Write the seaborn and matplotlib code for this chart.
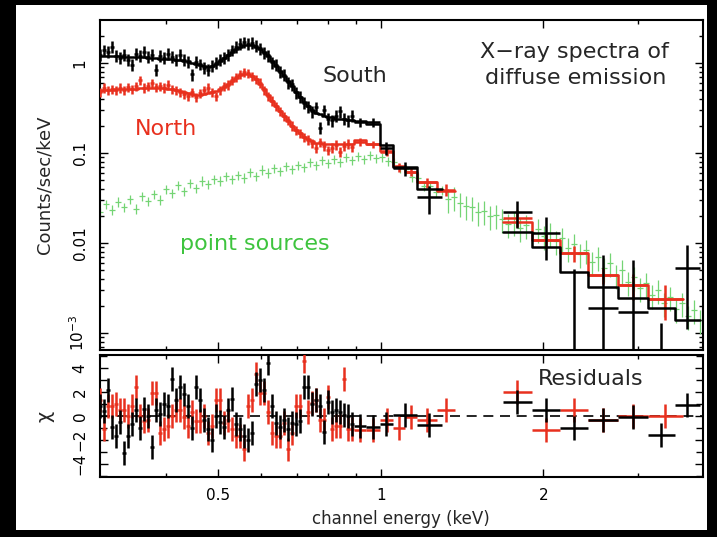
import numpy as np
import matplotlib
matplotlib.use("Agg")
import matplotlib.pyplot as plt
import seaborn as sns
from matplotlib.patches import Rectangle

# ---------------- data ----------------
energy_dense = [0.3020, 0.3072, 0.3125, 0.3178, 0.3233, 0.3289, 0.3345, 0.3403, 0.3461, 0.3521,
                0.3581, 0.3643, 0.3706, 0.3769, 0.3834, 0.3900, 0.3967, 0.4035, 0.4105, 0.4175,
                0.4247, 0.4320, 0.4395, 0.4470, 0.4547, 0.4625, 0.4705, 0.4786, 0.4868, 0.4952,
                0.5037, 0.5124, 0.5212, 0.5302, 0.5393, 0.5486, 0.5580, 0.5676, 0.5774, 0.5873,
                0.5974, 0.6077, 0.6181, 0.6288, 0.6396, 0.6506, 0.6618, 0.6732, 0.6848, 0.6965,
                0.7085, 0.7207, 0.7331, 0.7457, 0.7585, 0.7716, 0.7848, 0.7983, 0.8121, 0.8260,
                0.8402, 0.8547, 0.8694, 0.8843]

south_flux = [1.23, 1.39, 1.33, 1.51, 1.20, 1.14, 1.23, 1.08, 0.95, 1.26,
              1.20, 1.33, 1.17, 1.23, 0.84, 1.20, 1.14, 1.26, 1.17, 1.08,
              1.23, 1.08, 1.03, 0.75, 1.03, 0.97, 0.88, 0.84, 0.93, 1.00,
              1.08, 1.14, 1.23, 1.39, 1.51, 1.63, 1.71, 1.63, 1.67, 1.55,
              1.45, 1.30, 1.22, 1.02, 0.95, 0.80, 0.74, 0.61, 0.58, 0.47,
              0.42, 0.36, 0.33, 0.29, 0.32, 0.19, 0.30, 0.24, 0.23, 0.26,
              0.29, 0.24, 0.23, 0.26]
south_model = [1.20, 1.20, 1.19, 1.19, 1.18, 1.18, 1.17, 1.17, 1.16, 1.16,
               1.15, 1.15, 1.14, 1.14, 1.13, 1.12, 1.12, 1.11, 1.10, 1.09,
               1.08, 1.06, 1.04, 1.01, 0.98, 0.95, 0.92, 0.91, 0.93, 0.98,
               1.05, 1.13, 1.22, 1.32, 1.42, 1.52, 1.58, 1.60, 1.58, 1.52,
               1.44, 1.33, 1.20, 1.06, 0.93, 0.82, 0.72, 0.63, 0.55, 0.48,
               0.42, 0.37, 0.33, 0.30, 0.28, 0.27, 0.26, 0.25, 0.25, 0.24,
               0.24, 0.24, 0.23, 0.23]
south_chi = [0.8, 0.4, 2.2, -0.9, -1.7, -0.5, -3.1, -1.7, -0.7, 0.5,
             -1.0, 0.6, 0.0, -2.6, 0.5, 0.2, 1.0, 0.8, 3.1, 1.3,
             2.4, 1.8, 0.8, -1.0, 2.4, 1.3, -0.3, -1.1, -2.0, 0.0,
             -0.5, -0.9, 0.5, 1.4, -0.7, -1.1, -1.7, -2.0, -1.4, 2.7,
             3.0, 2.2, 4.4, 0.8, -0.6, -0.9, -0.3, -1.1, -0.6, -0.7,
             -0.4, 2.4, 2.4, 1.0, 1.3, 0.8, -1.3, 1.2, 0.3, 0.5,
             0.3, 0.1, 0.0, -0.7]

north_flux = [0.476, 0.528, 0.501, 0.514, 0.501, 0.528, 0.501, 0.541, 0.514, 0.555,
              0.647, 0.528, 0.555, 0.599, 0.541, 0.555, 0.528, 0.570, 0.514, 0.501,
              0.476, 0.452, 0.430, 0.476, 0.419, 0.464, 0.501, 0.528, 0.476, 0.430,
              0.501, 0.555, 0.570, 0.647, 0.699, 0.755, 0.794, 0.774, 0.717, 0.660,
              0.600, 0.500, 0.430, 0.380, 0.330, 0.290, 0.255, 0.230, 0.200, 0.180,
              0.165, 0.150, 0.140, 0.128, 0.114, 0.132, 0.120, 0.108, 0.114, 0.123,
              0.103, 0.120, 0.126, 0.116]
north_model = [0.49, 0.50, 0.50, 0.50, 0.51, 0.51, 0.51, 0.52, 0.52, 0.52,
               0.53, 0.53, 0.53, 0.53, 0.53, 0.53, 0.53, 0.52, 0.51, 0.50,
               0.49, 0.47, 0.46, 0.45, 0.44, 0.44, 0.45, 0.46, 0.47, 0.49,
               0.51, 0.54, 0.58, 0.63, 0.68, 0.73, 0.76, 0.76, 0.72, 0.66,
               0.59, 0.51, 0.44, 0.38, 0.33, 0.29, 0.255, 0.225, 0.20, 0.18,
               0.165, 0.152, 0.142, 0.135, 0.13, 0.128, 0.126, 0.125, 0.125, 0.125,
               0.125, 0.125, 0.125, 0.125]
north_chi = [1.3, -1.1, 0.8, 0.8, 1.0, 0.5, 0.5, 0.0, 0.8, 2.4,
             0.0, -0.4, -0.3, 1.9, 1.9, -1.4, -1.1, -0.8, 0.0, 0.5,
             0.5, -0.1, -0.8, 0.3, -0.4, -0.4, 0.0, -1.4, -0.8, 1.3,
             1.3, -0.6, -0.3, -1.1, -1.7, -1.7, -2.8, 0.8, 1.3, 3.5,
             1.9, 1.9, 0.3, -1.4, -1.7, -1.7, -0.6, -2.8, -1.4, 0.8,
             0.8, 4.6, 0.3, 1.1, 1.3, -0.3, -0.3, 1.6, -1.1, -0.8,
             -0.8, 3.1, -1.1, -1.1]
south_rel_err = 0.15
north_rel_err = 0.12

south_mid_edges = [0.892, 0.939, 0.997, 1.052, 1.165, 1.300]
south_mid_flux = [0.22, 0.22, 0.114, 0.068, 0.032]
south_mid_err = [0.025, 0.025, 0.020, 0.012, 0.011]
south_mid_model = [0.225, 0.21, 0.123, 0.070, 0.040]
south_mid_chi = [-0.8, -0.9, -0.7, 0.1, -0.75]

north_mid_edges = [0.892, 0.939, 0.997, 1.053, 1.109, 1.167, 1.271, 1.372]
north_mid_flux = [0.133, 0.125, 0.103, 0.070, 0.062, 0.047, 0.039]
north_mid_err = [0.012, 0.012, 0.010, 0.008, 0.007, 0.006, 0.006]
north_mid_model = [0.140, 0.127, 0.104, 0.072, 0.062, 0.048, 0.038]
north_mid_chi = [-1.2, -1.2, -0.3, -1.0, -0.1, -0.3, 0.5]

south_hi_edges = [1.683, 1.905, 2.147, 2.42, 2.75, 3.12, 3.50, 3.90]
south_hi_flux = [0.022, 0.0129, 0.0004, 0.0019, 0.0017, 0.0003, 0.0053]
south_hi_err = [0.0075, 0.0065, 0.0048, 0.0055, 0.0048, 0.0010, 0.0042]
south_hi_model = [0.01325, 0.0090, 0.00476, 0.00325, 0.00245, 0.0019, 0.0014]
south_hi_chi = [1.2, 0.5, -1.0, -0.3, -0.05, -1.6, 0.9]

north_hi_edges = [1.683, 1.905, 2.147, 2.42, 2.75, 3.12, 3.63]
north_hi_flux = [0.019, 0.0108, 0.0077, 0.0044, 0.0034, 0.0024]
north_hi_err = [0.004, 0.002, 0.0015, 0.0009, 0.0011, 0.0010]
north_hi_model = [0.0172, 0.0108, 0.0077, 0.0044, 0.0034, 0.0024]
north_hi_chi = [2.0, -1.2, 0.5, -0.3, 0.0, 0.0]

green_energy = [0.3020, 0.3098, 0.3178, 0.3261, 0.3345, 0.3432, 0.3521, 0.3612, 0.3706, 0.3802,
                0.3900, 0.4001, 0.4105, 0.4211, 0.4320, 0.4432, 0.4547, 0.4665, 0.4786, 0.4910,
                0.5037, 0.5168, 0.5302, 0.5439, 0.5580, 0.5725, 0.5873, 0.6025, 0.6181, 0.6342,
                0.6506, 0.6675, 0.6848, 0.7025, 0.7207, 0.7394, 0.7585, 0.7782, 0.7983, 0.8190,
                0.8402, 0.8620, 0.8843, 0.9072, 0.9307, 0.9549, 0.9796, 1.0050, 1.0311, 1.0578,
                1.0852, 1.1133, 1.1422, 1.1718, 1.2021, 1.2333, 1.2652, 1.2980, 1.3317, 1.3662,
                1.4016, 1.4379, 1.4752, 1.5134, 1.5526, 1.5929, 1.6341, 1.6765, 1.7199, 1.7645,
                1.8102, 1.8571, 1.9053, 1.9546, 2.0053, 2.0572, 2.1106, 2.1653, 2.2214, 2.2789,
                2.3380, 2.3986, 2.4608, 2.5245, 2.5900, 2.6571, 2.7259, 2.7966, 2.8690, 2.9434,
                3.0197, 3.0979, 3.1782, 3.2606, 3.3451, 3.4318, 3.5207, 3.6119, 3.7055, 3.8016,
                3.9001]
green_flux = [0.0221, 0.0271, 0.0233, 0.0286, 0.0251, 0.0308, 0.0239, 0.0333, 0.0293, 0.0350,
              0.0301, 0.0398, 0.0359, 0.0441, 0.0378, 0.0464, 0.0408, 0.0489, 0.0452, 0.0514,
              0.0489, 0.0555, 0.0514, 0.0570, 0.0528, 0.0615, 0.0555, 0.0648, 0.0600, 0.0681,
              0.0631, 0.0717, 0.0664, 0.0736, 0.0699, 0.0794, 0.0736, 0.0836, 0.0774, 0.0858,
              0.0794, 0.0903, 0.0836, 0.0926, 0.0858, 0.0950, 0.0880, 0.0903, 0.0815, 0.0794,
              0.0681, 0.0664, 0.0541, 0.0528, 0.0430, 0.0430, 0.0369, 0.0388, 0.0308, 0.0325,
              0.0278, 0.0258, 0.0251, 0.0221, 0.0227, 0.0200, 0.0205, 0.0185, 0.0163, 0.0171,
              0.0147, 0.0159, 0.0133, 0.0143, 0.0120, 0.0129, 0.0105, 0.0114, 0.0088, 0.00975,
              0.00755, 0.00836, 0.00615, 0.00699, 0.00528, 0.00599, 0.00441, 0.00501, 0.00369, 0.00419,
              0.00316, 0.00359, 0.00264, 0.00300, 0.00215, 0.00251, 0.00185, 0.00215, 0.00154, 0.00180,
              0.00140]
green_rel_err_soft = 0.12
green_rel_err_hard = 0.30
green_err_break_keV = 1.3

# ---------------- style ----------------
sns.set_style("ticks")
plt.rcParams['font.family'] = ['DejaVu Sans']
plt.rcParams['mathtext.fontset'] = 'dejavusans'

BLACK = '#000000'
RED = '#e8301e'
GREEN_PT = '#74d474'
GREEN_TXT = '#3ec43e'
LW = 1.8

W, H = 717, 537
fig = plt.figure(figsize=(W / 100, H / 100), dpi=100, facecolor='black')


def fx(px):
    return px / W


def fy(py):
    return 1 - py / H


fig.patches.append(Rectangle((fx(16), fy(530)), (707 - 16) / W, (530 - 5) / H,
                             transform=fig.transFigure, facecolor='white',
                             edgecolor='none', zorder=-10))

ax1 = fig.add_axes([fx(100), fy(350), (703 - 100) / W, (350 - 20) / H])
ax2 = fig.add_axes([fx(100), fy(477), (703 - 100) / W, (477 - 355) / H])
for ax in (ax1, ax2):
    ax.set_facecolor('white')
    ax.set_xscale('log')
    for s in ax.spines.values():
        s.set_linewidth(1.5)
        s.set_color('black')
ax1.set_yscale('log', nonpositive='clip')


def dense_edges(E):
    lr = np.log(np.asarray(E))
    mids = np.exp((lr[1:] + lr[:-1]) / 2)
    first = np.exp(lr[0] - (lr[1] - lr[0]) / 2)
    last = np.exp(lr[-1] + (lr[-1] - lr[-2]) / 2)
    return np.concatenate([[first], mids, [last]])


def cross(ax, lo, hi, y, yerr, color, lw, z):
    lo = np.asarray(lo); hi = np.asarray(hi)
    c = np.sqrt(lo * hi)
    ax.errorbar(c, y, xerr=[c - lo, hi - c], yerr=yerr, fmt='none',
                ecolor=color, elinewidth=lw, capsize=0, zorder=z)


def step(ax, edges, vals, color, lw, z):
    xs = list(edges)
    ys = list(vals) + [vals[-1]]
    sns.lineplot(x=xs, y=ys, drawstyle='steps-post', estimator=None, sort=False,
                 color=color, lw=lw, ax=ax, legend=False, zorder=z)


de = dense_edges(energy_dense)
ge = dense_edges(green_energy)
gE = np.asarray(green_energy)
gF = np.asarray(green_flux)
g_rel = np.where(gE < green_err_break_keV, green_rel_err_soft, green_rel_err_hard)

# ---- upper panel ----
cross(ax1, ge[:-1], ge[1:], gF, gF * g_rel, GREEN_PT, 0.9, 1)

# North (red)
nF = np.asarray(north_flux)
cross(ax1, de[:-1], de[1:], nF, nF * north_rel_err, RED, LW, 3)
cross(ax1, north_mid_edges[:-1], north_mid_edges[1:], north_mid_flux, north_mid_err, RED, LW, 3)
cross(ax1, north_hi_edges[:-1], north_hi_edges[1:], north_hi_flux, north_hi_err, RED, LW, 3)
step(ax1, list(de) + north_mid_edges[1:], north_model + north_mid_model, RED, LW, 3)
step(ax1, north_hi_edges, north_hi_model, RED, LW, 3)

# South (black)
sF = np.asarray(south_flux)
cross(ax1, de[:-1], de[1:], sF, sF * south_rel_err, BLACK, LW, 4)
cross(ax1, south_mid_edges[:-1], south_mid_edges[1:], south_mid_flux, south_mid_err, BLACK, LW, 4)
cross(ax1, south_hi_edges[:-1], south_hi_edges[1:], south_hi_flux, south_hi_err, BLACK, LW, 4)
step(ax1, list(de) + south_mid_edges[1:], south_model + south_mid_model, BLACK, LW, 4)
step(ax1, south_hi_edges, south_hi_model, BLACK, LW, 4)

ax1.set_xlim(0.302, 3.95)
ax1.set_ylim(6.47e-4, 3.0)

# ---- lower panel (residuals) ----
ax2.axhline(0, color='black', lw=1.2, ls=(0, (6, 4)), zorder=2)
ones = 1.0
cross(ax2, de[:-1], de[1:], north_chi, ones, RED, LW, 3)
cross(ax2, north_mid_edges[:-1], north_mid_edges[1:], north_mid_chi, ones, RED, LW, 3)
cross(ax2, north_hi_edges[:-1], north_hi_edges[1:], north_hi_chi, ones, RED, LW, 3)
cross(ax2, de[:-1], de[1:], south_chi, ones, BLACK, LW, 4)
cross(ax2, south_mid_edges[:-1], south_mid_edges[1:], south_mid_chi, ones, BLACK, LW, 4)
cross(ax2, south_hi_edges[:-1], south_hi_edges[1:], south_hi_chi, ones, BLACK, LW, 4)
ax2.set_xlim(0.302, 3.95)
ax2.set_ylim(-5.1, 5.1)

# ---- ticks ----
xmaj = [0.5, 1, 2]
xmin = [0.4, 0.6, 0.7, 0.8, 0.9, 3]
for ax in (ax1, ax2):
    ax.set_xticks(xmaj)
    ax.set_xticks(xmin, minor=True)
    ax.set_xticklabels([], minor=True)
    ax.tick_params(which='both', direction='in', top=True, right=True,
                   bottom=True, left=True, width=1.0, colors='black')
    ax.tick_params(which='major', length=6)
    ax.tick_params(which='minor', length=3)
ax1.set_xticklabels([])
ax2.set_xticklabels(['0.5', '1', '2'])
ax2.tick_params(axis='x', which='major', labelsize=11, pad=8)

ax1.set_yticks([1e-3, 1e-2, 1e-1, 1])
ax1.set_yticks([m * d for d in (1e-4, 1e-3, 1e-2, 1e-1, 1) for m in range(2, 10)
                if 6.47e-4 < m * d < 3.0], minor=True)
ax1.set_yticklabels(['$10^{-3}$', '0.01', '0.1', '1'], rotation=90, va='center')
ax1.set_yticklabels([], minor=True)
ax1.set_ylim(6.47e-4, 3.0)
ax1.tick_params(axis='y', which='major', labelsize=11, pad=9)

ax2.set_yticks([-4, -2, 0, 2, 4])
ax2.set_yticks([-5, -3, -1, 1, 3, 5], minor=True)
ax2.set_yticklabels(['\u22124', '\u22122', '0', '2', '4'], rotation=90, va='center')
ax2.tick_params(axis='y', which='major', labelsize=11, pad=9)
ax2.tick_params(axis='y', which='minor', length=5)
ax2.set_ylim(-5.1, 5.1)

# ---- texts ----
fig.text(fx(574), fy(58), 'X\u2212ray spectra of', ha='center', va='baseline', fontsize=16)
fig.text(fx(576), fy(84), 'diffuse emission', ha='center', va='baseline', fontsize=16)
fig.text(fx(322), fy(82), 'South', ha='left', va='baseline', fontsize=16)
fig.text(fx(135), fy(135), 'North', ha='left', va='baseline', fontsize=16, color=RED)
fig.text(fx(180), fy(250), 'point sources', ha='left', va='baseline', fontsize=16, color=GREEN_TXT)
fig.text(fx(538), fy(385), 'Residuals', ha='left', va='baseline', fontsize=16)
fig.text(fx(45), fy(185), 'Counts/sec/keV', rotation=90, ha='center', va='center', fontsize=13)
fig.text(fx(45), fy(416), '\u03c7', rotation=90, ha='center', va='center', fontsize=14)
fig.text(fx(401), fy(519), 'channel energy (keV)', ha='center', va='center', fontsize=12)

fig.savefig('out.png', dpi=100, facecolor=fig.get_facecolor())
